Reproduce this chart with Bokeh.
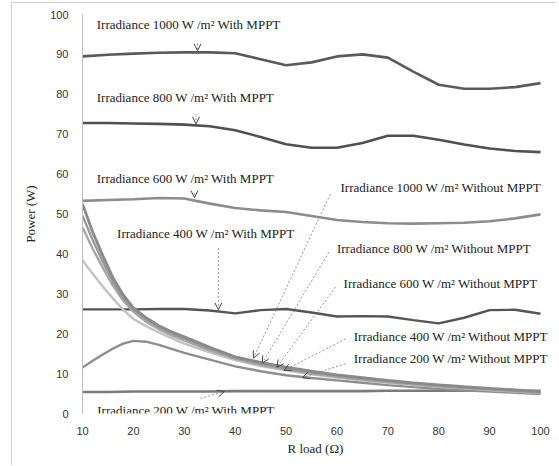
from bokeh.plotting import figure
from bokeh.models import Range1d, Label, Arrow, OpenHead, FixedTicker
from bokeh.embed import file_html
from bokeh.resources import INLINE

# ---- data ----
r_mppt = [10, 15, 20, 25, 30, 35, 40, 45, 50, 55, 60, 65, 70, 75, 80, 85, 90, 95, 100]
p1000_mppt = [89.5, 89.9, 90.2, 90.4, 90.5, 90.5, 90.3, 88.8, 87.3, 88.0, 89.5, 90.0, 89.2, 85.7, 82.4, 81.4, 81.4, 81.8, 82.8]
p800_mppt = [72.8, 72.8, 72.7, 72.6, 72.4, 72.0, 71.0, 69.3, 67.5, 66.6, 66.6, 67.8, 69.6, 69.6, 68.6, 67.4, 66.4, 65.8, 65.5]
p600_mppt = [53.3, 53.5, 53.7, 54.0, 53.9, 52.6, 51.5, 50.9, 50.5, 49.5, 48.5, 48.0, 47.7, 47.6, 47.7, 47.8, 48.2, 48.9, 49.9]
p400_mppt = [26.1, 26.1, 26.1, 26.2, 26.2, 25.8, 25.1, 25.9, 26.2, 25.3, 24.3, 24.4, 24.3, 23.4, 22.6, 24.0, 25.9, 26.0, 25.0]
p200_mppt = [5.4, 5.4, 5.5, 5.5, 5.5, 5.5, 5.6, 5.6, 5.6, 5.6, 5.6, 5.6, 5.7, 5.7, 5.7, 5.7, 5.7, 5.7, 5.7]

r_wo = [10, 12, 14, 16, 18, 20, 22.5, 25, 27.5, 30, 35, 40, 45, 50, 55, 60, 65, 70, 75, 80, 85, 90, 95, 100]
p1000_wo = [52.5, 45.5, 39.5, 34.0, 29.7, 26.5, 24.0, 22.0, 20.5, 19.2, 16.6, 14.2, 12.8, 11.6, 10.6, 9.7, 9.0, 8.3, 7.7, 7.2, 6.7, 6.3, 5.9, 5.5]
p800_wo = [49.6, 43.5, 38.0, 33.0, 29.0, 26.0, 23.6, 21.6, 20.1, 18.8, 16.2, 14.0, 12.5, 11.3, 10.3, 9.4, 8.7, 8.1, 7.5, 7.0, 6.5, 6.1, 5.7, 5.3]
p600_wo = [46.7, 41.3, 36.5, 32.0, 28.3, 25.5, 23.0, 21.1, 19.6, 18.3, 15.8, 13.7, 12.2, 11.0, 10.0, 9.2, 8.5, 7.9, 7.3, 6.8, 6.4, 6.0, 5.6, 5.2]
p400_wo = [38.4, 35.0, 31.8, 28.8, 26.0, 23.7, 21.9, 20.3, 18.9, 17.5, 15.3, 13.4, 11.9, 10.8, 9.8, 9.0, 8.3, 7.7, 7.2, 6.7, 6.3, 5.9, 5.5, 5.1]
p200_wo = [11.5, 13.2, 14.8, 16.3, 17.5, 18.2, 18.0, 17.2, 16.2, 15.2, 13.5, 11.8, 10.6, 9.6, 8.9, 8.3, 7.7, 7.1, 6.6, 6.2, 5.8, 5.5, 5.2, 4.9]

x_ticks = [10, 20, 30, 40, 50, 60, 70, 80, 90, 100]
y_ticks = [0, 10, 20, 30, 40, 50, 60, 70, 80, 90, 100]

labels = [
    "Irradiance 1000 W /m\u00b2 With MPPT",
    "Irradiance 800 W /m\u00b2 With MPPT",
    "Irradiance 600 W /m\u00b2 With MPPT",
    "Irradiance 400 W /m\u00b2 With MPPT",
    "Irradiance 200 W /m\u00b2 With MPPT",
    "Irradiance 1000 W /m\u00b2 Without MPPT",
    "Irradiance 800 W /m\u00b2 Without MPPT",
    "Irradiance 600 W /m\u00b2 Without MPPT",
    "Irradiance 400 W /m\u00b2 Without MPPT",
    "Irradiance 200 W /m\u00b2 Without MPPT",
]

# ---- figure ----
# frame spans a little past R=100 so that the right-hand labels are not clipped
p = figure(width=545, height=463, x_range=Range1d(10, 101.57), y_range=Range1d(0, 100),
           output_backend="svg", toolbar_location=None,
           min_border_left=70, min_border_right=9, min_border_top=11, min_border_bottom=53)
p.styles = {"margin-left": "11px", "margin-top": "2px",
            "border-top": "1px solid #d0d0d0", "border-left": "1px solid #d0d0d0"}
p.outline_line_color = None
p.grid.visible = False
p.background_fill_color = "white"
p.border_fill_color = "white"

for ax in (p.xaxis[0], p.yaxis[0]):
    ax.major_tick_line_color = None
    ax.minor_tick_line_color = None
    ax.major_label_text_font = "Liberation Sans"
    ax.major_label_text_font_size = "11px"
    ax.major_label_text_color = "#333333"
    ax.axis_label_text_font = "Liberation Serif"
    ax.axis_label_text_font_size = "13px"
    ax.axis_label_text_font_style = "normal"
    ax.axis_label_text_color = "#222222"

p.xaxis.ticker = FixedTicker(ticks=x_ticks)
p.yaxis.ticker = FixedTicker(ticks=y_ticks)
p.xaxis.axis_line_color = None
p.yaxis.axis_line_color = "#bdbdbd"
p.xaxis.major_label_standoff = 7
p.yaxis.major_label_standoff = 8
p.xaxis.axis_label = "R load (\u03a9)"
p.yaxis.axis_label = "Power (W)"
p.xaxis.axis_label_standoff = 3
p.yaxis.axis_label_standoff = 9

# ---- lines ----
p.line(r_mppt, p1000_mppt, line_color="#5a5a5a", line_width=2.6)
p.line(r_mppt, p800_mppt, line_color="#505050", line_width=2.6)
p.line(r_mppt, p600_mppt, line_color="#8c8c8c", line_width=2.6)
p.line(r_mppt, p400_mppt, line_color="#555555", line_width=2.4)
p.line(r_mppt, p200_mppt, line_color="#7a7a7a", line_width=2.6)

p.line(r_wo, p200_wo, line_color="#8e8e8e", line_width=2.4)
p.line(r_wo, p400_wo, line_color="#c2c2c2", line_width=2.4)
p.line(r_wo, p600_wo, line_color="#a6a6a6", line_width=2.4)
p.line(r_wo, p800_wo, line_color="#9a9a9a", line_width=2.4)
p.line(r_wo, p1000_wo, line_color="#8a8a8a", line_width=2.8)

# ---- annotations ----
label_pos = [(12.8, 97.5), (12.8, 79.2), (12.8, 58.9), (16.8, 45.1), (12.9, 0.7),
             (60.7, 56.7), (60.0, 41.3), (61.3, 32.5), (63.3, 19.3), (63.3, 13.7)]
for (lx, ly), txt in zip(label_pos, labels):
    p.add_layout(Label(x=lx, y=ly, text=txt, text_font="Liberation Serif",
                       text_font_size="13px", text_baseline="middle", text_align="left",
                       text_color="#222222"))

arrows = [((32.6, 92.7), (32.6, 90.9)), ((32.3, 75.0), (32.3, 72.6)), ((32.0, 55.3), (32.0, 54.1)),
          ((36.7, 41.5), (36.7, 26.0)), ((33.2, 3.8), (37.9, 5.5)),
          ((58.7, 55.0), (43.6, 13.9)), ((58.4, 40.4), (45.3, 12.6)), ((59.7, 31.7), (48.2, 11.6)),
          ((61.7, 18.7), (49.6, 10.8)), ((61.7, 12.5), (53.2, 9.0))]
for (xs, ys), (xe, ye) in arrows:
    p.add_layout(Arrow(end=OpenHead(size=7, line_color="#444444", line_width=1),
                       x_start=xs, y_start=ys, x_end=xe, y_end=ye,
                       line_color="#777777", line_width=0.8, line_dash="2 2"))

open("out.html", "w").write(file_html(p, INLINE))
